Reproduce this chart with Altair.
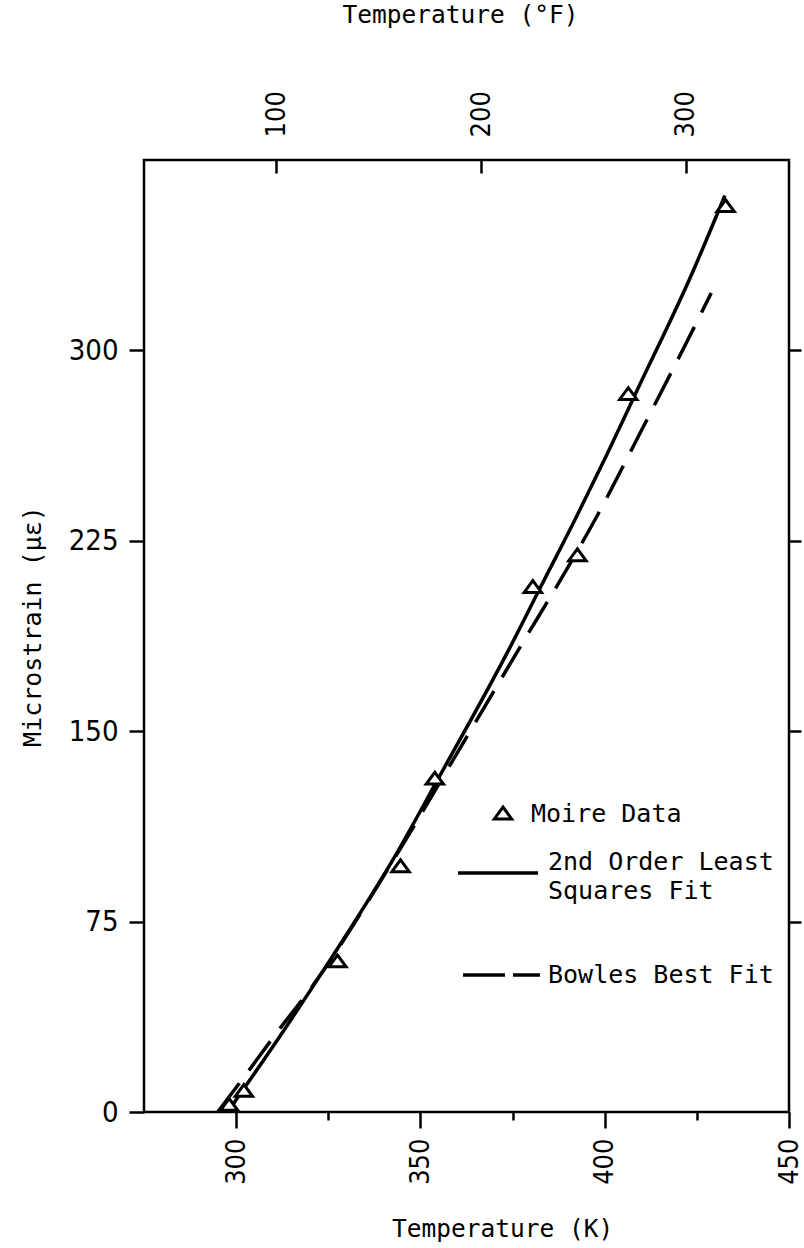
import altair as alt
import pandas as pd

# ---- data ----
moire_K = [298.1, 302.1, 327.5, 344.6, 353.9, 380.5, 392.6, 406.4, 432.8]
moire_strain = [3, 8.5, 59.5, 97, 131.5, 207, 219.5, 283, 357]

lsq_K = [297.7, 313.8, 326.0, 342.8, 354.9, 374.3, 382.5, 392.5, 400.6, 408.7, 423.6, 432.6]
lsq_strain = [0, 34, 61, 100, 131.5, 183, 206.5, 235, 259, 284, 330, 361]

bowles_K = [295.0, 302.1, 311.1, 321.1, 343.0, 360.0, 377.8, 390.2, 397.4, 410.5, 422.5, 428.9]
bowles_strain = [0, 13.7, 31.4, 50.4, 100, 141.5, 185, 215, 233.4, 270, 304, 322.6]

k_ticks = [300, 325, 350, 375, 400, 425, 450]
f_ticks = [100, 200, 300]
strain_ticks = [0, 75, 150, 225, 300]

K_domain = [275, 450]
strain_domain = [0, 375]
F_domain = [(k - 273.15) * 1.8 + 32 for k in K_domain]

TITLE_FONT = "DejaVu Sans Mono"
LABEL_FONT = "Liberation Sans Narrow, DejaVu Sans Condensed, Roboto Condensed, DejaVu Sans"
TRI = "M-1,0.68L1,0.68L0,-0.68Z"

W, H = 645, 952

xs = alt.Scale(domain=K_domain, nice=False, zero=False)
ys = alt.Scale(domain=strain_domain, nice=False, zero=False)

bottom_axis = alt.Axis(
    values=k_ticks, domain=False, grid=False,
    tickSize={"condition": {"test": "datum.value % 50 === 0", "value": 16}, "value": 8},
    tickWidth=2.5, tickColor="black",
    labelExpr="datum.value % 50 === 0 ? datum.label : ''",
    labelAngle=270, labelAlign="right", labelBaseline="middle",
    labelPadding=10, labelFont=LABEL_FONT, labelFontSize=27, labelColor="black",
    title="Temperature (K)", titleFont=TITLE_FONT, titleFontSize=24.5,
    titleFontWeight="normal", titleColor="black",
    titleX=358, titleY=117, titleBaseline="middle", titleAlign="center",
)
left_axis = alt.Axis(
    values=strain_ticks, domain=False, grid=False,
    tickSize=15, tickWidth=2.5, tickColor="black",
    labelPadding=11, labelFont=LABEL_FONT, labelFontSize=29, labelColor="black",
    labelBaseline="middle",
    title="Microstrain (\u03bc\u03b5)", titleFont=TITLE_FONT, titleFontSize=25,
    titleFontWeight="normal", titleColor="black",
    titleX=-112, titleY=466, titleAngle=270, titleBaseline="middle", titleAlign="center",
)

x_enc = alt.X("K:Q", scale=xs, axis=bottom_axis)
y_enc = alt.Y("strain:Q", scale=ys, axis=left_axis)

lsq_df = pd.DataFrame({"K": lsq_K, "strain": lsq_strain})
bow_df = pd.DataFrame({"K": bowles_K, "strain": bowles_strain})
moire_df = pd.DataFrame({"K": moire_K, "strain": moire_strain})

solid = alt.Chart(lsq_df).mark_line(
    color="black", strokeWidth=3.5, interpolate="monotone", clip=True
).encode(x=x_enc, y=y_enc)

dashed = alt.Chart(bow_df).mark_line(
    color="black", strokeWidth=3.5, strokeDash=[36, 16], interpolate="monotone", clip=True
).encode(x=x_enc, y=y_enc)

points = alt.Chart(moire_df).mark_point(
    shape=TRI, size=300, filled=True, fill="white", stroke="black",
    strokeWidth=3, opacity=1
).encode(x=x_enc, y=y_enc)

one = pd.DataFrame({"a": [0]})

leg_tri = alt.Chart(one).mark_point(
    shape=TRI, size=300, filled=True, fill="white", stroke="black",
    strokeWidth=3, opacity=1
).encode(x=alt.value(359), y=alt.value(653))

def leg_text(txt, x, y):
    return alt.Chart(one).mark_text(
        text=txt, font=TITLE_FONT, fontSize=25, align="left",
        baseline="alphabetic", color="black"
    ).encode(x=alt.value(x), y=alt.value(y))

leg_solid = alt.Chart(one).mark_rule(color="black", strokeWidth=3.5).encode(
    x=alt.value(314), x2=alt.value(394), y=alt.value(713))
leg_dash = alt.Chart(one).mark_rule(
    color="black", strokeWidth=3.5, strokeDash=[42, 8]).encode(
    x=alt.value(319), x2=alt.value(396), y=alt.value(815))

inner = alt.layer(
    solid, dashed, points,
    leg_tri,
    leg_text("Moire Data", 387, 662),
    leg_solid,
    leg_text("2nd Order Least", 404, 710),
    leg_text("Squares Fit", 404, 739),
    leg_dash,
    leg_text("Bowles Best Fit", 404, 823),
)

top_axis = alt.Axis(
    values=f_ticks, orient="top", domain=False, grid=False, offset=-13,
    tickSize=13, tickWidth=2.5, tickColor="black",
    labelAngle=270, labelAlign="left", labelBaseline="middle",
    labelPadding=23, labelFont=LABEL_FONT, labelFontSize=27, labelColor="black",
    title="Temperature (\u00b0F)", titleFont=TITLE_FONT, titleFontSize=24.5,
    titleFontWeight="normal", titleColor="black",
    titleX=316, titleY=-158, titleBaseline="middle", titleAlign="center",
)
top_layer = alt.Chart(moire_df).transform_calculate(
    F="(datum.K - 273.15) * 1.8 + 32"
).mark_point(opacity=0).encode(
    x=alt.X("F:Q", scale=alt.Scale(domain=F_domain, nice=False, zero=False), axis=top_axis)
)

right_axis = alt.Axis(
    values=[75, 150, 225, 300], orient="right", domain=False, grid=False,
    tickSize=12, tickWidth=2.5, tickColor="black", labels=False, title=None,
)
right_layer = alt.Chart(moire_df).mark_point(opacity=0).encode(
    y=alt.Y("strain:Q", scale=ys, axis=right_axis)
)

chart = alt.layer(inner, top_layer, right_layer).resolve_scale(
    x="independent", y="independent"
).properties(
    width=W, height=H,
    autosize="none",
    padding={"left": 144, "top": 160, "right": 15, "bottom": 136},
    background="white",
).configure_view(stroke="black", strokeWidth=2.5)

chart.save("out.html", embed_options={"renderer": "svg", "actions": False})
